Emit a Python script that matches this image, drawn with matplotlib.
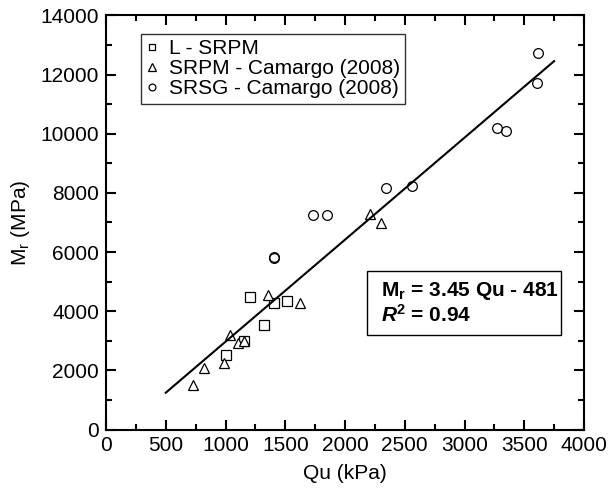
import numpy as np
import matplotlib
matplotlib.use("Agg")
import matplotlib.pyplot as plt
from matplotlib.patches import Rectangle
from matplotlib.ticker import MultipleLocator

plt.rcParams["font.family"] = ["Liberation Sans", "DejaVu Sans"]
plt.rcParams["mathtext.fontset"] = "custom"
plt.rcParams["mathtext.rm"] = "Liberation Sans"
plt.rcParams["mathtext.it"] = "Liberation Sans:italic"
plt.rcParams["mathtext.bf"] = "Liberation Sans:bold"
plt.rcParams["mathtext.bfit"] = "Liberation Sans:bold:italic"

# L - SRPM (squares)
l_srpm_qu = [1002, 1155, 1201, 1326, 1406, 1512]
l_srpm_mr = [2519, 2983, 4491, 3534, 4268, 4356]

# SRPM - Camargo (2008) (triangles)
srpm_qu = [724, 823, 987, 1038, 1105, 1155, 1353, 1624, 2213, 2301]
srpm_mr = [1505, 2070, 2239, 3196, 2915, 3003, 4549, 4288, 7298, 6973]

# SRSG - Camargo (2008) (circles)
srsg_qu = [1405, 1409, 1730, 1847, 2341, 2558, 3269, 3345, 3604, 3618]
srsg_mr = [5805, 5825, 7254, 7254, 8157, 8235, 10186, 10095, 11708, 12722]

# regression line Mr = 3.45 Qu - 481
fit_slope = 3.45
fit_intercept = -481
fit_range = [500, 3750]

fig = plt.figure(figsize=(6.1, 4.93), dpi=100)
ax = fig.add_axes([0.1738, 0.1288, 0.7836, 0.8398])

mk = dict(linestyle="none", markerfacecolor="white", markeredgecolor="black",
          markeredgewidth=0.9)
ax.plot(l_srpm_qu, l_srpm_mr, marker="s", markersize=7, label="L - SRPM", **mk)
ax.plot(srpm_qu, srpm_mr, marker="^", markersize=7.5,
        label="SRPM - Camargo (2008)", **mk)
ax.plot(srsg_qu, srsg_mr, marker="o", markersize=7, markerfacecolor="none",
        markeredgecolor="black", markeredgewidth=0.9, linestyle="none",
        label="SRSG - Camargo (2008)")

qx = np.array(fit_range)
ax.plot(qx, fit_slope * qx + fit_intercept, color="black", linewidth=1.5)

ax.set_xlim(0, 4000)
ax.set_ylim(0, 14000)
ax.xaxis.set_major_locator(MultipleLocator(500))
ax.xaxis.set_minor_locator(MultipleLocator(250))
ax.yaxis.set_major_locator(MultipleLocator(2000))
ax.yaxis.set_minor_locator(MultipleLocator(1000))
ax.tick_params(which="both", direction="in", top=True, right=True,
               labelsize=15, width=1.5)
ax.tick_params(which="major", length=7, pad=5)
ax.tick_params(which="minor", length=4)
for s in ax.spines.values():
    s.set_linewidth(1.5)

ax.set_xlabel("Qu (kPa)", fontsize=15, labelpad=6)
ax.set_ylabel(r"M$_\mathregular{r}$ (MPa)", fontsize=15, labelpad=6)

leg = ax.legend(loc="upper left", bbox_to_anchor=(0.073, 0.955),
                borderaxespad=0, fontsize=15, frameon=True, fancybox=False,
                handlelength=0.6, handletextpad=0.5, labelspacing=0.05,
                borderpad=0.25, markerscale=0.7)
leg.get_frame().set_edgecolor("black")
leg.get_frame().set_linewidth(1.0)

# equation box
ax.add_patch(Rectangle((0.546, 0.228), 0.406, 0.155, transform=ax.transAxes,
                       facecolor="white", edgecolor="black", linewidth=1.0,
                       zorder=4))
ax.text(0.575, 0.3056,
        "M$_\\mathbf{r}$ = 3.45 Qu - 481\n$\\mathbfit{R}^\\mathbf{2}$ = 0.94",
        transform=ax.transAxes, fontsize=15, fontweight="bold",
        linespacing=1.1, va="center", ha="left", zorder=5)

fig.savefig("out.png", dpi=100)
